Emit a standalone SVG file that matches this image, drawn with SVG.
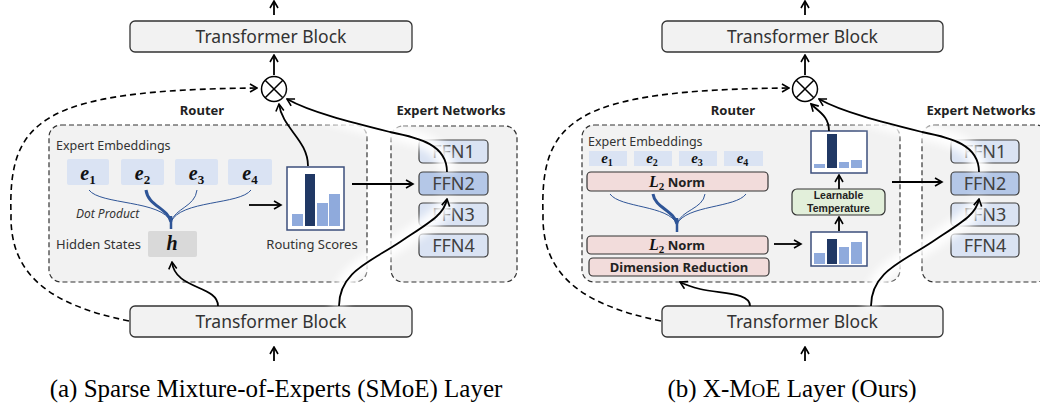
<svg xmlns="http://www.w3.org/2000/svg" width="1040" height="408" viewBox="0 0 1040 408">
<style>
.tb{fill:#f2f2f2;stroke:#333;stroke-width:1.3}
.t{font-family:"Noto Sans","Liberation Sans",sans-serif;fill:#333}
.lbl{font-family:"Noto Sans","Liberation Sans",sans-serif;font-weight:bold;fill:#222;font-size:13px}
.grp{fill:#f2f2f2;stroke:#333;stroke-width:1.2;stroke-dasharray:5 3}
.ebox{fill:#dae3f3}
.em{font-family:"Liberation Serif",serif;font-weight:bold;font-style:italic;fill:#111}
.sub{font-style:normal}
.ffn{fill:#dae3f3;stroke:#404040;stroke-width:1.2}
.ffn2{fill:#b4c7e7;stroke:#404040;stroke-width:1.2}
.ft{font-family:"Noto Sans","Liberation Sans",sans-serif;font-size:18px;fill:#404040;text-anchor:middle}
.chart{fill:#fff;stroke:#3c4f7c;stroke-width:1.5}
.bl{fill:#8faadc}
.bd{fill:#203864}
.fan{fill:none;stroke:#2f5597;stroke-width:1}
.fanb{fill:none;stroke:#2f5597;stroke-width:3}
.c{fill:none;stroke:#000;stroke-width:1.8}
.d{fill:none;stroke:#000;stroke-width:1.6;stroke-dasharray:6 4}
.glow{fill:none;stroke:#fff;stroke-width:16;opacity:0.95}
.pink{fill:#f2dcdb;stroke:#333;stroke-width:1.2}
.cap{font-family:"Liberation Serif",serif;font-size:25px;fill:#000;text-anchor:middle}
.tmp{font-family:"Liberation Sans",Arial,sans-serif;font-weight:bold;font-size:10.5px;fill:#222;text-anchor:middle}
</style>
<defs>
<marker id="ah" viewBox="0 0 10 10" markerWidth="10" markerHeight="10" refX="8.5" refY="5" orient="auto" markerUnits="userSpaceOnUse">
<path d="M1.5,1 L8.5,5 L1.5,9" fill="none" stroke="#000" stroke-width="1.6" stroke-dasharray="none"/>
</marker>
<filter id="blur" x="-20%" y="-20%" width="140%" height="140%"><feGaussianBlur stdDeviation="4"/></filter>
</defs>

<!-- ===== Panel (a) ===== -->
<g id="a-router">
<rect class="grp" x="49" y="125" width="318" height="157" rx="12"/>
<text class="lbl" x="202" y="114.5" text-anchor="middle">Router</text>
<text class="t" x="56" y="150" font-size="12.5">Expert Embeddings</text>
</g>
<g id="a-e1"><rect class="ebox" x="67" y="159" width="42" height="26" rx="2"/><text class="em" x="88" y="180" text-anchor="middle" font-size="20">e<tspan class="sub" font-size="13" dy="4">1</tspan></text></g>
<g id="a-e2"><rect class="ebox" x="121" y="159" width="43" height="26" rx="2"/><text class="em" x="142.5" y="180" text-anchor="middle" font-size="20">e<tspan class="sub" font-size="13" dy="4">2</tspan></text></g>
<g id="a-e3"><rect class="ebox" x="175" y="159" width="43" height="26" rx="2"/><text class="em" x="196.5" y="180" text-anchor="middle" font-size="20">e<tspan class="sub" font-size="13" dy="4">3</tspan></text></g>
<g id="a-e4"><rect class="ebox" x="228" y="159" width="44" height="26" rx="2"/><text class="em" x="250" y="180" text-anchor="middle" font-size="20">e<tspan class="sub" font-size="13" dy="4">4</tspan></text></g>
<g id="a-dot">
<path class="fan" d="M89,190 C100,205 162,200 171,222"/>
<path class="fanb" d="M146,190 C148,206 168,208 171,222"/>
<path class="fan" d="M197,190 C195,207 175,208 171,222"/>
<path class="fan" d="M251,190 C240,205 180,200 171,222"/>
<path d="M171,216 L171,229" stroke="#2f5597" stroke-width="2.5"/>
<text class="t" x="76" y="218" font-size="12" font-style="italic" fill="#404040">Dot Product</text>
</g>
<g id="a-h">
<text class="t" x="56" y="249" font-size="13">Hidden States</text>
<rect x="148" y="231" width="49" height="26" rx="2" fill="#d9d9d9"/>
<text class="em" x="172" y="250" text-anchor="middle" font-size="20">h</text>
</g>
<g id="a-scores">
<rect class="chart" x="287" y="167" width="57" height="63"/>
<rect class="bl" x="292" y="214" width="11" height="12"/>
<rect class="bd" x="305" y="174" width="10" height="52"/>
<rect class="bl" x="317" y="203" width="11" height="23"/>
<rect class="bl" x="329" y="194" width="11" height="32"/>
<text class="t" x="312" y="249" font-size="13" text-anchor="middle">Routing Scores</text>
</g>
<g id="a-experts">
<rect class="grp" x="391" y="126" width="126" height="156" rx="12"/>
<text class="lbl" x="451" y="114.5" text-anchor="middle">Expert Networks</text>
<rect class="ffn" x="419" y="140" width="69" height="23" rx="4"/><text class="ft" x="453.5" y="158">FFN1</text>
<rect class="ffn2" x="419" y="172" width="69" height="23" rx="4"/><text class="ft" x="453.5" y="190">FFN2</text>
<rect class="ffn" x="419" y="203" width="69" height="23" rx="4"/><text class="ft" x="453.5" y="221">FFN3</text>
<rect class="ffn" x="419" y="234" width="69" height="23" rx="4"/><text class="ft" x="453.5" y="252">FFN4</text>
</g>
<g id="a-tb-top"><rect class="tb" x="130" y="21" width="282" height="31" rx="5"/><text class="t" x="271" y="43" font-size="17.5" text-anchor="middle">Transformer Block</text></g>
<g id="a-tb-bot"><rect class="tb" x="130" y="306" width="282" height="31" rx="5"/><text class="t" x="271" y="328" font-size="17.5" text-anchor="middle">Transformer Block</text></g>
<g id="a-mul"><circle cx="274" cy="89" r="12.5" fill="#fff" stroke="#000" stroke-width="1.5"/><path d="M265.2,80.2 L282.8,97.8 M282.8,80.2 L265.2,97.8" stroke="#000" stroke-width="1.5"/></g>
<text id="a-caption" class="cap" x="276" y="397">(a) Sparse Mixture-of-Experts (SMoE) Layer</text>

<!-- ===== Panel (b) ===== -->
<g id="b-router">
<rect class="grp" x="582" y="125" width="318" height="157" rx="12"/>
<text class="lbl" x="733" y="114.5" text-anchor="middle">Router</text>
<text class="t" x="588" y="145.5" font-size="12.5">Expert Embeddings</text>
</g>
<g id="b-e1"><rect class="ebox" x="589" y="151" width="38" height="15"/><text class="em" x="607" y="163" text-anchor="middle" font-size="15">e<tspan class="sub" font-size="10" dy="3">1</tspan></text></g>
<g id="b-e2"><rect class="ebox" x="634" y="151" width="38" height="15"/><text class="em" x="652" y="163" text-anchor="middle" font-size="15">e<tspan class="sub" font-size="10" dy="3">2</tspan></text></g>
<g id="b-e3"><rect class="ebox" x="679" y="151" width="38" height="15"/><text class="em" x="697" y="163" text-anchor="middle" font-size="15">e<tspan class="sub" font-size="10" dy="3">3</tspan></text></g>
<g id="b-e4"><rect class="ebox" x="724" y="151" width="39" height="15"/><text class="em" x="742.5" y="163" text-anchor="middle" font-size="15">e<tspan class="sub" font-size="10" dy="3">4</tspan></text></g>
<g id="b-norm1"><rect class="pink" x="587" y="172" width="181" height="19" rx="4"/><text x="677" y="186.5" text-anchor="middle"><tspan class="em" font-size="16">L</tspan><tspan class="em sub" font-size="11" dy="3">2</tspan><tspan class="lbl" font-size="14" dy="-3"> Norm</tspan></text></g>
<g id="b-fan">
<path class="fan" d="M610,194 C620,208 668,205 677,224"/>
<path class="fanb" d="M653,194 C655,208 674,210 677,224"/>
<path class="fan" d="M705,194 C703,209 681,210 677,224"/>
<path class="fan" d="M746,194 C736,208 686,205 677,224"/>
<path d="M677,218 L677,232" stroke="#2f5597" stroke-width="2.5"/>
</g>
<g id="b-norm2"><rect class="pink" x="587" y="236" width="181" height="18" rx="4"/><text x="677" y="250" text-anchor="middle"><tspan class="em" font-size="16">L</tspan><tspan class="em sub" font-size="11" dy="3">2</tspan><tspan class="lbl" font-size="14" dy="-3"> Norm</tspan></text></g>
<g id="b-dimred"><rect class="pink" x="589" y="258" width="180" height="18" rx="4"/><text class="lbl" x="679" y="271.5" text-anchor="middle" font-size="12.5">Dimension Reduction</text></g>
<g id="b-chart1">
<rect class="chart" x="811" y="232" width="56" height="34"/>
<rect class="bl" x="814" y="253" width="11" height="11"/>
<rect class="bd" x="827" y="239" width="10" height="25"/>
<rect class="bl" x="839" y="247" width="10" height="17"/>
<rect class="bl" x="851" y="242" width="11" height="22"/>
</g>
<g id="b-temp"><rect x="792" y="189" width="93" height="26" rx="5" fill="#e2efda" stroke="#333" stroke-width="1.2"/>
<text class="tmp" x="838.5" y="199">Learnable</text>
<text class="tmp" x="838.5" y="211.5">Temperature</text></g>
<g id="b-chart2">
<rect class="chart" x="811" y="131" width="56" height="42"/>
<rect class="bl" x="814" y="164" width="11" height="4"/>
<rect class="bd" x="827" y="134" width="10" height="34"/>
<rect class="bl" x="839" y="162" width="10" height="6"/>
<rect class="bl" x="851" y="160" width="11" height="8"/>
</g>
<g id="b-experts">
<rect class="grp" x="922" y="125" width="126" height="157" rx="12"/>
<text class="lbl" x="981" y="114.5" text-anchor="middle">Expert Networks</text>
<rect class="ffn" x="951" y="140" width="68" height="23" rx="4"/><text class="ft" x="985" y="158">FFN1</text>
<rect class="ffn2" x="951" y="172" width="68" height="23" rx="4"/><text class="ft" x="985" y="190">FFN2</text>
<rect class="ffn" x="951" y="203" width="68" height="23" rx="4"/><text class="ft" x="985" y="221">FFN3</text>
<rect class="ffn" x="951" y="234" width="68" height="23" rx="4"/><text class="ft" x="985" y="252">FFN4</text>
</g>
<g id="b-tb-top"><rect class="tb" x="662" y="21" width="281" height="31" rx="5"/><text class="t" x="802.5" y="43" font-size="17.5" text-anchor="middle">Transformer Block</text></g>
<g id="b-tb-bot"><rect class="tb" x="662" y="306" width="281" height="31" rx="5"/><text class="t" x="802.5" y="328" font-size="17.5" text-anchor="middle">Transformer Block</text></g>
<g id="b-mul"><circle cx="805" cy="89" r="12.5" fill="#fff" stroke="#000" stroke-width="1.5"/><path d="M796.2,80.2 L813.8,97.8 M813.8,80.2 L796.2,97.8" stroke="#000" stroke-width="1.5"/></g>
<text id="b-caption" class="cap" x="792" y="397">(b) X-M<tspan font-size="19">O</tspan>E Layer (Ours)</text>

<!-- ===== Connectors ===== -->
<g id="connectors">
<g filter="url(#blur)">
<path class="glow" d="M447,172 C447,145 420,138 390,132 C350,122 310,112 288,99"/>
<path class="glow" d="M339,306 C339,272 370,262 400,242 C430,222 444,215 447,199"/>
<path class="glow" d="M979,172 C979,145 952,138 922,132 C882,122 842,112 820,99"/>
<path class="glow" d="M871,306 C871,272 902,262 932,242 C962,222 976,215 979,199"/>
</g>
<!-- panel a -->
<path class="c" d="M274,15 L274,1" marker-end="url(#ah)"/>
<path class="c" d="M274,75 L274,55" marker-end="url(#ah)"/>
<path class="c" d="M274,361 L274,347" marker-end="url(#ah)"/>
<path class="d" d="M129,321 C50,305 10,275 11,215 C8,120 40,90 257,88" marker-end="url(#ah)"/>
<path class="c" d="M308,166 C308,140 282,128 279,104" marker-end="url(#ah)"/>
<path class="c" d="M447,172 C447,145 420,138 390,132 C350,122 310,112 287,99" marker-end="url(#ah)"/>
<path class="c" d="M339,306 C339,272 370,262 400,242 C430,222 444,215 447,199" marker-end="url(#ah)"/>
<path class="c" d="M218,306 C218,285 175,290 172,262" marker-end="url(#ah)"/>
<path class="c" d="M249,205 L281,205" marker-end="url(#ah)"/>
<path class="c" d="M352,184 L413,184" marker-end="url(#ah)"/>
<!-- panel b -->
<path class="c" d="M805,15 L805,1" marker-end="url(#ah)"/>
<path class="c" d="M805,75 L805,55" marker-end="url(#ah)"/>
<path class="c" d="M805,361 L805,347" marker-end="url(#ah)"/>
<path class="d" d="M661,321 C582,305 542,275 543,215 C540,120 572,90 789,88" marker-end="url(#ah)"/>
<path class="c" d="M829,131 C829,116 819,112 811,104" marker-end="url(#ah)"/>
<path class="c" d="M979,172 C979,145 952,138 922,132 C882,122 842,112 819,99" marker-end="url(#ah)"/>
<path class="c" d="M871,306 C871,272 902,262 932,242 C962,222 976,215 979,199" marker-end="url(#ah)"/>
<path class="c" d="M750,306 C750,292 720,294 700,289 C692,287 686,285 680,282" marker-end="url(#ah)"/>
<path class="c" d="M774,244 L801,244" marker-end="url(#ah)"/>
<path class="c" d="M839,231 L839,217" marker-end="url(#ah)"/>
<path class="c" d="M839,189 L839,175" marker-end="url(#ah)"/>
<path class="c" d="M892,182 L942,182" marker-end="url(#ah)"/>
</g>
</svg>
